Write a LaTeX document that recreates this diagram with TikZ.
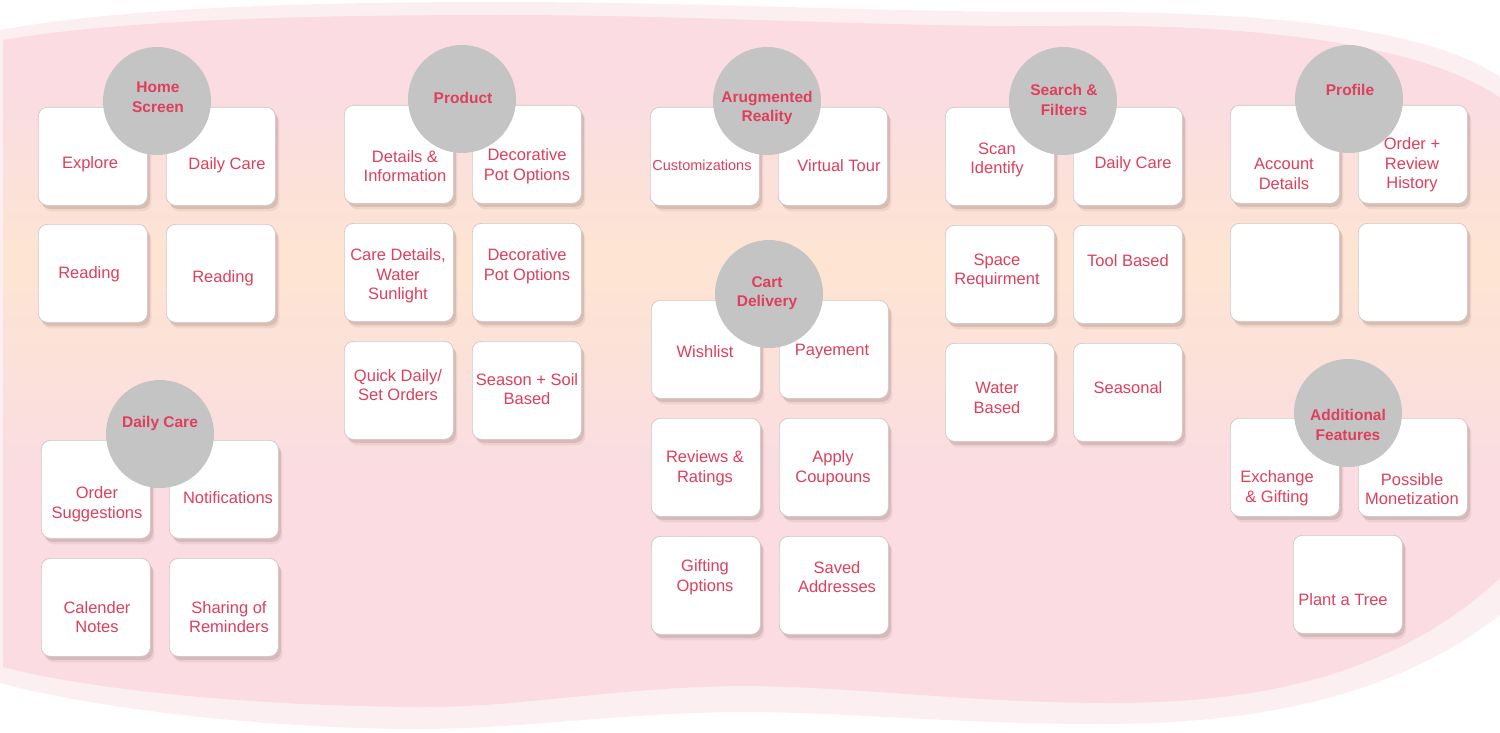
\documentclass[tikz,border=0pt]{standalone}
\usepackage{fontspec}
\setmainfont{Liberation Sans}
\usetikzlibrary{shadows}
\definecolor{txtc}{HTML}{DE3F5C}
\definecolor{circc}{HTML}{C4C4C4}
\definecolor{bandc}{HTML}{FCEFF2}
\definecolor{pinkc}{HTML}{FADCE2}
\definecolor{peachc}{HTML}{FDE4D3}
\definecolor{boxline}{HTML}{D0C6C6}
\definecolor{shadc}{HTML}{8C6F6A}
\begin{document}
\begin{tikzpicture}[x=1pt,y=-1pt,
 box/.style={draw=boxline, line width=0.7pt, fill=white, rounded corners=9pt, minimum width=109pt, minimum height=98pt, anchor=north west, inner sep=0pt,
   drop shadow={shadow xshift=4pt, shadow yshift=-6pt, opacity=0.12, fill=shadc},
   drop shadow={shadow xshift=2.5pt, shadow yshift=-3.5pt, opacity=0.22, fill=shadc}},
 hub/.style={circle, fill=circc, minimum size=108pt, inner sep=0pt},
 txt/.style={text=txtc, align=center, font=\fontsize{16.5}{19.5}\selectfont, inner sep=0pt},
 hubtxt/.style={text=txtc, align=center, font=\fontsize{15.5}{19.5}\selectfont\bfseries, inner sep=0pt}]
\useasboundingbox (0,0) rectangle (1500,733);
% background band
\fill[bandc] (0,30) .. controls (120,8) and (300,2) .. (500,2) .. controls (700,2) and (880,12) .. (1050,12) .. controls (1300,10) and (1440,35) .. (1500,77) -- (1500,615) .. controls (1390,700) and (1250,724) .. (1100,724) .. controls (950,724) and (850,712) .. (740,712) .. controls (620,713) and (520,729) .. (420,729) .. controls (250,729) and (80,705) .. (0,683) -- cycle;
\begin{scope}
\clip (3,40) .. controls (120,20) and (300,15) .. (500,15) .. controls (700,15) and (880,27) .. (1050,26) .. controls (1300,22) and (1440,55) .. (1500,98) -- (1500,578) .. controls (1390,680) and (1250,703) .. (1110,703) .. controls (970,703) and (850,686) .. (740,686) .. controls (620,687) and (520,707) .. (430,707) .. controls (260,707) and (90,690) .. (3,667) -- cycle;
\fill[pinkc] (0,0) rectangle (1500,733);
\shade[top color=pinkc, bottom color=peachc] (0,90) rectangle (1500,250);
\fill[peachc] (0,249) rectangle (1500,281);
\shade[top color=peachc, bottom color=pinkc] (0,280) rectangle (1500,480);
\end{scope}
% boxes
\node[box] (hs1) at (38,107) {};
\node[box] (hs2) at (166,107) {};
\node[box] (hs3) at (38,224) {};
\node[box] (hs4) at (166,224) {};
\node[box] (dc1) at (41,440) {};
\node[box] (dc2) at (169,440) {};
\node[box] (dc3) at (41,558) {};
\node[box] (dc4) at (169,558) {};
\node[box] (pr1) at (344,105) {};
\node[box] (pr2) at (472,105) {};
\node[box] (pr3) at (344,223) {};
\node[box] (pr4) at (472,223) {};
\node[box] (pr5) at (344,341) {};
\node[box] (pr6) at (472,341) {};
\node[box] (ar1) at (650,107) {};
\node[box] (ar2) at (778,107) {};
\node[box] (cd1) at (651,300) {};
\node[box] (cd2) at (779,300) {};
\node[box] (cd3) at (651,418) {};
\node[box] (cd4) at (779,418) {};
\node[box] (cd5) at (651,536) {};
\node[box] (cd6) at (779,536) {};
\node[box] (sf1) at (945,107) {};
\node[box] (sf2) at (1073,107) {};
\node[box] (sf3) at (945,225) {};
\node[box] (sf4) at (1073,225) {};
\node[box] (sf5) at (945,343) {};
\node[box] (sf6) at (1073,343) {};
\node[box] (pf1) at (1230,105) {};
\node[box] (pf2) at (1358,105) {};
\node[box] (pf3) at (1230,223) {};
\node[box] (pf4) at (1358,223) {};
\node[box] (af1) at (1230,418) {};
\node[box] (af2) at (1358,418) {};
\node[box] (af3) at (1293,535) {};
% hubs
\node[hub] (hHome) at (157,101) {};
\node[hub] (hDaily) at (160,434) {};
\node[hub] (hProd) at (462,99) {};
\node[hub] (hAR) at (767,101) {};
\node[hub] (hCart) at (769,294) {};
\node[hub] (hSearch) at (1063,101) {};
\node[hub] (hProfile) at (1349,99) {};
\node[hub] (hAdd) at (1348,413) {};
% hub labels
\node[hubtxt] (lHome) at (158,97) {Home\\Screen};
\node[hubtxt] (lDaily) at (160,423) {Daily Care};
\node[hubtxt] (lProd) at (463,98) {Product};
\node[hubtxt] (lAR) at (767,108) {Arugmented\\Reality};
\node[hubtxt] (lCart) at (767,293) {Cart\\Delivery};
\node[hubtxt] (lSearch) at (1064,100) {Search \&\\Filters};
\node[hubtxt] (lProfile) at (1350,90) {Profile};
\node[hubtxt] (lAdd) at (1348,425) {Additional\\Features};
% box texts
\node[txt] (t1) at (90,164) {Explore};
\node[txt] (t2) at (227,165) {Daily Care};
\node[txt] (t3) at (89,274) {Reading};
\node[txt] (t4) at (223,278) {Reading};
\node[txt] (t5) at (97,504) {Order\\Suggestions};
\node[txt] (t6) at (228,498) {Notifications};
\node[txt] (t7) at (97,617) {Calender\\Notes};
\node[txt] (t8) at (229,617) {Sharing of\\Reminders};
\node[txt] (t9) at (405,166) {Details \&\\Information};
\node[txt] (t10) at (527,166) {Decorative\\Pot Options};
\node[txt] (t11) at (398,276) {Care Details,\\Water\\Sunlight};
\node[txt] (t12) at (527,266) {Decorative\\Pot Options};
\node[txt] (t13) at (398,385) {Quick Daily/\\Set Orders};
\node[txt] (t14) at (527,389) {Season + Soil\\Based};
\node[txt, font=\fontsize{14.5}{17}\selectfont] (t15) at (702,165) {Customizations};
\node[txt] (t16) at (839,166) {Virtual Tour};
\node[txt] (t17) at (705,352) {Wishlist};
\node[txt] (t18) at (832,352) {Payement};
\node[txt] (t19) at (705,468) {Reviews \&\\Ratings};
\node[txt] (t20) at (833,468) {Apply\\Coupouns};
\node[txt] (t21) at (705,577) {Gifting\\Options};
\node[txt] (t22) at (837,577) {Saved\\Addresses};
\node[txt] (t23) at (997,160) {Scan\\Identify};
\node[txt] (t24) at (1133,164) {Daily Care};
\node[txt] (t25) at (997,271) {Space\\Requirment};
\node[txt] (t26) at (1128,261) {Tool Based};
\node[txt] (t27) at (997,398) {Water\\Based};
\node[txt] (t28) at (1128,388) {Seasonal};
\node[txt] (t29) at (1284,174) {Account\\Details};
\node[txt] (t30) at (1412,165) {Order +\\Review\\History};
\node[txt] (t31) at (1277,488) {Exchange\\\& Gifting};
\node[txt] (t32) at (1412,489) {Possible\\Monetization};
\node[txt] (t33) at (1343,600) {Plant a Tree};
\end{tikzpicture}
\end{document}
